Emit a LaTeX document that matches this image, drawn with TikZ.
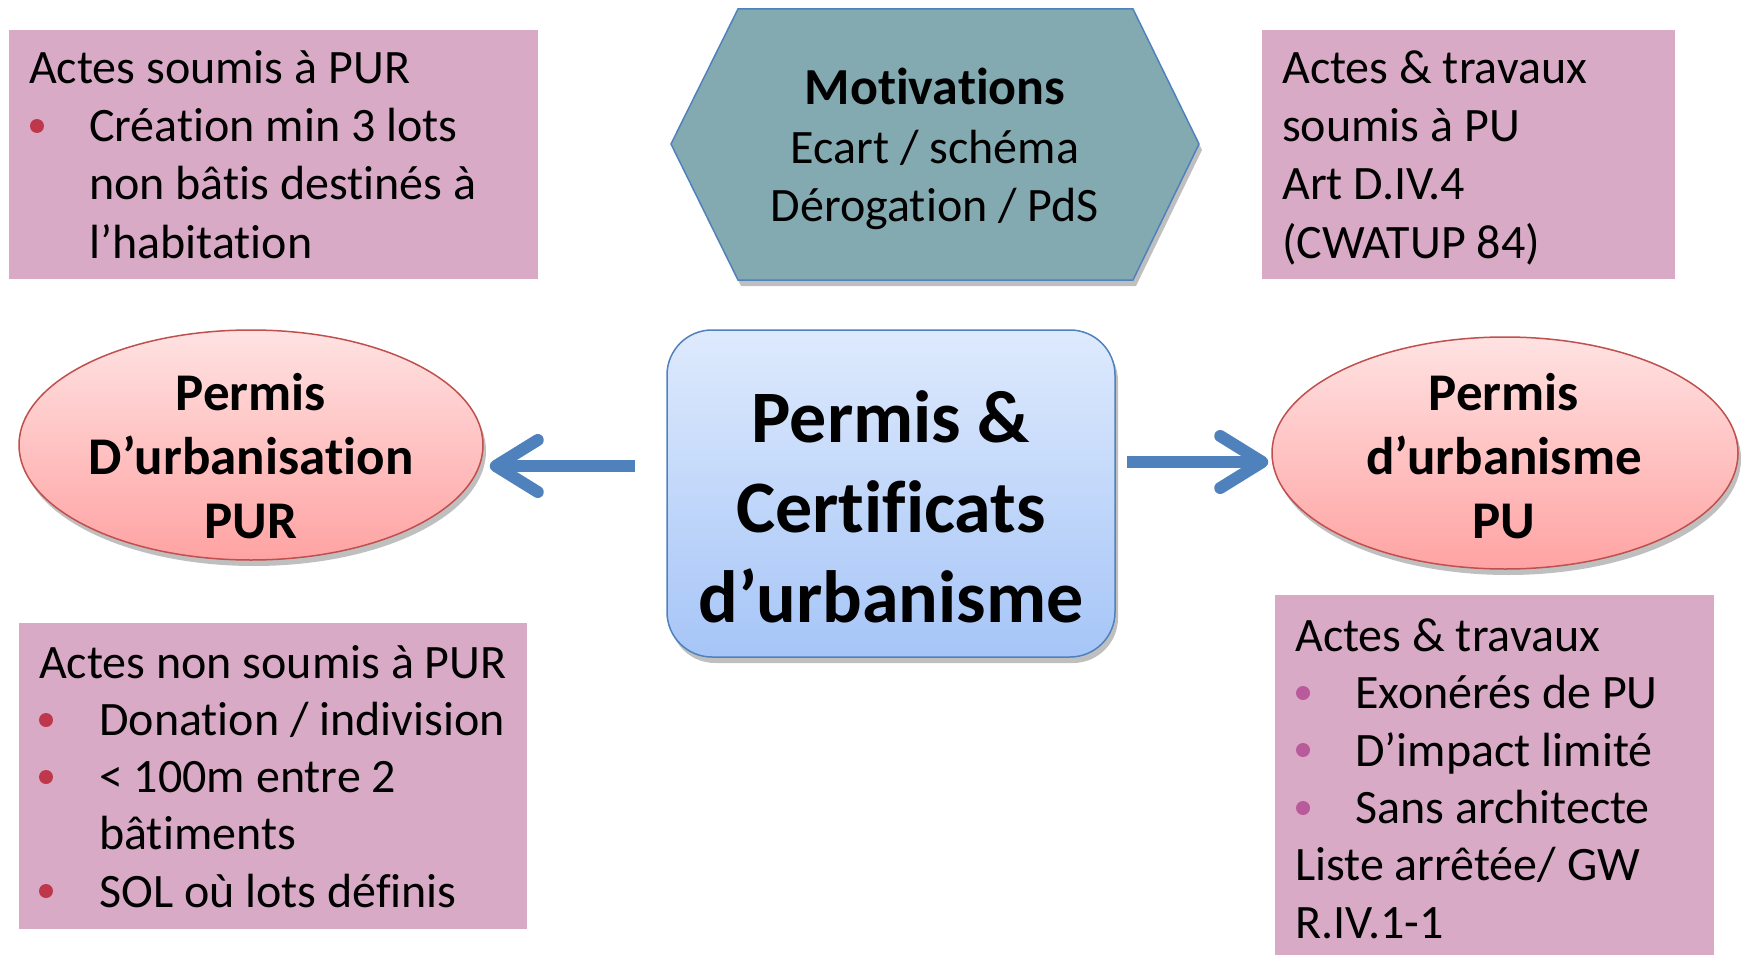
\documentclass[tikz,border=0pt]{standalone}
\usepackage{fontspec}
\setmainfont{Carlito}[Ligatures={NoCommon}]
\usetikzlibrary{arrows.meta,shadows,calc,shapes.geometric}
\definecolor{boxpink}{RGB}{217,170,198}
\definecolor{hexfill}{RGB}{132,170,177}
\definecolor{blueline}{RGB}{79,129,189}
\definecolor{ctop}{RGB}{222,234,253}
\definecolor{cbot}{RGB}{166,197,247}
\definecolor{etop}{RGB}{255,226,226}
\definecolor{ebot}{RGB}{255,163,163}
\definecolor{eline}{RGB}{192,80,77}
\definecolor{bulred}{RGB}{190,55,75}
\definecolor{bulpur}{RGB}{185,90,155}
\tikzset{
  pinkbox/.style={fill=boxpink, draw=none, inner sep=0pt, anchor=north west},
  body/.style={anchor=base west, inner sep=0pt, font=\fontsize{48}{57}\selectfont},
  hexline/.style={anchor=base, inner sep=0pt, font=\fontsize{48}{57}\selectfont},
  hexbold/.style={anchor=base, inner sep=0pt, font=\fontsize{52}{60}\selectfont\bfseries},
  elltext/.style={anchor=base, inner sep=0pt, font=\fontsize{53}{64}\selectfont\bfseries},
  centext/.style={anchor=base, inner sep=0pt, font=\fontsize{74}{90}\selectfont\bfseries},
  softshadow/.style={drop shadow={shadow xshift=3pt, shadow yshift=-6pt, opacity=0.25, fill=black}},
  ell/.style={ellipse, draw=eline, line width=1.5pt, top color=etop, bottom color=ebot, softshadow, inner sep=0pt},
  arr/.style={draw=blueline, line width=12pt, -{Straight Barb[length=42pt, width=52pt, round]}},
}
\begin{document}
\begin{tikzpicture}[x=1pt, y=-1pt]
\useasboundingbox (0,0) rectangle (1741,955);

% pink boxes
\node[pinkbox, minimum width=529pt, minimum height=249pt] (tl) at (9,30) {};
\node[pinkbox, minimum width=413pt, minimum height=249pt] (tr) at (1262,30) {};
\node[pinkbox, minimum width=508pt, minimum height=306pt] (bl) at (19,623) {};
\node[pinkbox, minimum width=439pt, minimum height=360pt] (br) at (1275,595) {};

% hexagon
\path[fill=hexfill, draw=blueline, line width=1.5pt, softshadow]
  (671,144) -- (738,9) -- (1133,9) -- (1199,144) -- (1133,280) -- (738,280) -- cycle;
\node[hexbold] (mot1) at (935,105) {Motivations};
\node[hexline] (mot2) at (935,164) {Ecart / schéma};
\node[hexline] (mot3) at (935,222) {Dérogation / PdS};

% center box
\node[draw=blueline, line width=1.5pt, rounded corners=45pt, top color=ctop, bottom color=cbot,
      softshadow, minimum width=448pt, minimum height=327pt, inner sep=0pt] (c) at (891,493.5) {};
\node[centext] (c1) at (891,442) {Permis \&};
\node[centext] (c2) at (891,532) {Certificats};
\node[centext] (c3) at (891,622) {d’urbanisme};

% ellipses
\node[ell, minimum width=464pt, minimum height=230pt] (pur) at (251,445) {};
\node[elltext] (pur1) at (251,410) {Permis};
\node[elltext] (pur2) at (251,474) {D’urbanisation};
\node[elltext] (pur3) at (251,538) {PUR};

\node[ell, minimum width=466pt, minimum height=232pt] (pu) at (1505,453) {};
\node[elltext] (pu1) at (1504,410) {Permis};
\node[elltext] (pu2) at (1504,474) {d’urbanisme};
\node[elltext] (pu3) at (1504,538) {PU};

% arrows
\draw[arr, shorten <=31pt, shorten >=6pt] (c.west |- 0,466) -- (pur.east |- 0,466);
\draw[arr, shorten <=11pt, shorten >=3pt] (c.east |- 0,462) -- (pu.west |- 0,462);

% text box TL
\node[body] (tl1) at (29,84) {Actes soumis à PUR};
\fill[bulred] (37,126) circle (7pt);
\node[body] (tl2) at (89,142) {Création min 3 lots};
\node[body] (tl3) at (89,200) {non bâtis destinés à};
\node[body] (tl4) at (89,258) {l’habitation};

% text box TR
\node[body] (tr1) at (1282,84) {Actes \& travaux};
\node[body] (tr2) at (1282,142) {soumis à PU};
\node[body] (tr3) at (1282,200) {Art D.IV.4};
\node[body] (tr4) at (1282,258) {(CWATUP 84)};

% text box BL
\node[body] (bl1) at (39,678) {Actes non soumis à PUR};
\fill[bulred] (46,720) circle (7pt);
\node[body] (bl2) at (99,735) {Donation / indivision};
\fill[bulred] (46,777) circle (7pt);
\node[body] (bl3) at (99,792) {< 100m entre 2};
\node[body] (bl4) at (99,849) {bâtiments};
\fill[bulred] (46,891) circle (7pt);
\node[body] (bl5) at (99,907) {SOL où lots définis};

% text box BR
\node[body] (br1) at (1295,651) {Actes \& travaux};
\fill[bulpur] (1303,693) circle (7pt);
\node[body] (br2) at (1355,708) {Exonérés de PU};
\fill[bulpur] (1303,750) circle (7pt);
\node[body] (br3) at (1355,766) {D’impact limité};
\fill[bulpur] (1303,808) circle (7pt);
\node[body] (br4) at (1355,823) {Sans architecte};
\node[body] (br5) at (1295,880) {Liste arrêtée/ GW};
\node[body] (br6) at (1295,938) {R.IV.1-1};
\end{tikzpicture}
\end{document}
